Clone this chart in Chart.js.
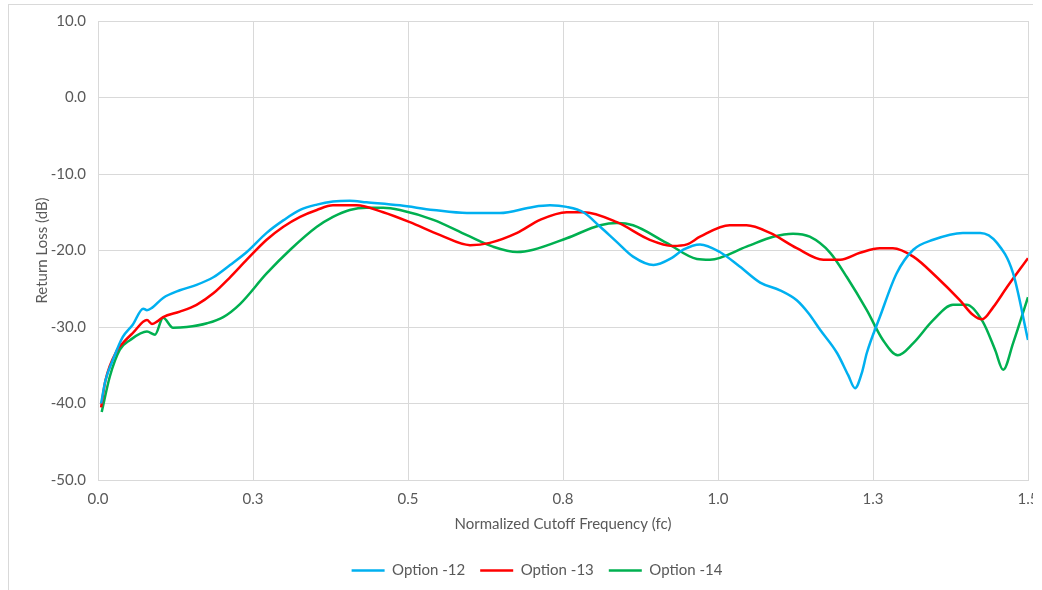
<!DOCTYPE html>
<html>
<head>
<meta charset="utf-8">
<script src="https://cdn.jsdelivr.net/npm/chart.js@4.4.1/dist/chart.umd.min.js"></script>
<style>
  html, body { margin: 0; padding: 0; background: #fff; overflow: hidden; width: 1042px; height: 590px; }
  #frame { position: absolute; left: 8px; top: 4px; width: 1024px; height: 600px;
           border-left: 1px solid #d9d9d9; border-top: 1px solid #d9d9d9; overflow: hidden; }
  #box { position: absolute; left: 0; top: 0; width: 1052px; height: 600px; }
</style>
</head>
<body>
<div id="frame"><div id="box"><canvas id="c"></canvas></div></div>
<script>
// ---- data ----
const seriesNames = ['Option -12', 'Option -13', 'Option -14'];
const seriesColors = ['#00B0F0', '#FF0000', '#00B050'];

const opt12X = [0.005, 0.012, 0.024, 0.040, 0.056, 0.073, 0.079, 0.087, 0.105, 0.132, 0.159, 0.186, 0.213, 0.240, 0.272, 0.300, 0.326, 0.353, 0.379, 0.406, 0.433, 0.487, 0.541, 0.595, 0.648, 0.702, 0.729, 0.756, 0.783, 0.810, 0.837, 0.863, 0.896, 0.925, 0.944, 0.971, 1.003, 1.035, 1.068, 1.100, 1.127, 1.146, 1.165, 1.192, 1.210, 1.221, 1.232, 1.240, 1.261, 1.288, 1.315, 1.347, 1.395, 1.423, 1.450, 1.476, 1.500];
const opt12Y = [-40.0, -37.0, -34.3, -31.3, -29.7, -27.6, -27.8, -27.5, -26.2, -25.2, -24.5, -23.5, -21.9, -20.2, -17.7, -16.0, -14.7, -14.0, -13.6, -13.5, -13.7, -14.1, -14.7, -15.1, -15.1, -14.3, -14.1, -14.3, -15.0, -16.9, -18.9, -20.8, -21.9, -21.0, -19.9, -19.2, -20.2, -22.1, -24.2, -25.2, -26.5, -28.2, -30.4, -33.4, -36.3, -38.0, -36.0, -33.4, -28.7, -23.0, -19.9, -18.6, -17.7, -17.7, -19.0, -23.0, -31.7];

const opt13X = [0.005, 0.012, 0.031, 0.040, 0.056, 0.079, 0.087, 0.095, 0.105, 0.132, 0.159, 0.186, 0.213, 0.240, 0.272, 0.299, 0.326, 0.353, 0.379, 0.417, 0.460, 0.503, 0.552, 0.600, 0.632, 0.676, 0.713, 0.756, 0.783, 0.837, 0.890, 0.927, 0.950, 0.971, 1.019, 1.046, 1.084, 1.127, 1.170, 1.197, 1.229, 1.261, 1.282, 1.315, 1.353, 1.390, 1.411, 1.426, 1.444, 1.466, 1.500];
const opt13Y = [-40.5, -37.0, -33.0, -32.1, -30.8, -29.1, -29.6, -29.3, -28.7, -28.0, -27.1, -25.6, -23.5, -21.2, -18.6, -16.9, -15.6, -14.7, -14.1, -14.1, -15.0, -16.3, -18.0, -19.3, -19.0, -17.7, -16.0, -15.0, -15.0, -16.3, -18.6, -19.4, -19.2, -18.2, -16.7, -16.7, -17.7, -19.7, -21.2, -21.2, -20.3, -19.7, -19.7, -20.8, -23.5, -26.5, -28.4, -29.0, -27.4, -24.8, -21.0];

const opt14X = [0.006, 0.019, 0.035, 0.052, 0.079, 0.092, 0.105, 0.121, 0.143, 0.176, 0.202, 0.229, 0.272, 0.310, 0.353, 0.379, 0.406, 0.433, 0.460, 0.487, 0.541, 0.595, 0.637, 0.676, 0.702, 0.756, 0.810, 0.837, 0.863, 0.917, 0.966, 0.987, 1.046, 1.089, 1.121, 1.148, 1.181, 1.208, 1.240, 1.266, 1.290, 1.315, 1.347, 1.379, 1.401, 1.427, 1.447, 1.460, 1.476, 1.500];
const opt14Y = [-41.1, -36.5, -33.0, -31.7, -30.6, -31.0, -28.8, -30.1, -30.0, -29.5, -28.7, -27.0, -23.0, -19.9, -16.9, -15.6, -14.7, -14.4, -14.4, -14.7, -16.0, -18.0, -19.5, -20.2, -19.9, -18.4, -16.7, -16.4, -16.7, -19.0, -21.1, -21.2, -19.5, -18.2, -17.8, -18.2, -20.3, -23.5, -27.8, -31.7, -33.7, -32.1, -29.1, -27.1, -27.1, -29.3, -33.0, -35.6, -32.1, -26.1];

const xTickValues = [0, 0.25, 0.5, 0.75, 1.0, 1.25, 1.5];
const xTickLabels = ['0.0', '0.3', '0.5', '0.8', '1.0', '1.3', '1.5'];
const yTickLabels = ['-50.0', '-40.0', '-30.0', '-20.0', '-10.0', '0.0', '10.0'];

const xTitle = 'Normalized Cutoff Frequency (fc)';
const yTitle = 'Return Loss (dB)';

// ---- build chart ----
const toPts = (xs, ys) => xs.map((x, i) => ({ x: x, y: ys[i] }));
const allX = [opt12X, opt13X, opt14X];
const allY = [opt12Y, opt13Y, opt14Y];

const datasets = seriesNames.map((name, i) => ({
  label: name,
  data: toPts(allX[i], allY[i]),
  borderColor: seriesColors[i],
  backgroundColor: seriesColors[i],
  borderWidth: 2.5,
  pointRadius: 0,
  pointStyle: 'line',
  fill: false,
  cubicInterpolationMode: 'monotone'
}));

const FONT = 'Lato, "Open Sans", sans-serif';
const GRID = '#d9d9d9';
const TXT = '#595959';

new Chart(document.getElementById('c'), {
  type: 'line',
  data: { datasets },
  options: {
    responsive: true,
    maintainAspectRatio: false,
    animation: false,
    events: [],
    layout: { padding: { left: 37, right: 33, top: 16, bottom: 17 } },
    plugins: {
      tooltip: { enabled: false },
      legend: {
        position: 'bottom',
        labels: {
          usePointStyle: true,
          pointStyleWidth: 33,
          padding: 15,
          color: TXT,
          font: { family: FONT, size: 15 }
        }
      }
    },
    scales: {
      x: {
        type: 'linear',
        min: 0, max: 1.5,
        afterBuildTicks: (s) => { s.ticks = xTickValues.map(v => ({ value: v })); },
        afterFit: (s) => { s.height = 68; },
        ticks: {
          padding: 10,
          color: TXT,
          font: { family: FONT, size: 15 },
          maxRotation: 0,
          callback: (v) => { const k = xTickValues.indexOf(v); return k >= 0 ? xTickLabels[k] : ''; }
        },
        grid: { color: GRID, lineWidth: 1, drawTicks: false },
        border: { color: GRID },
        title: { display: true, text: xTitle, color: TXT, font: { family: FONT, size: 15 }, padding: { top: 4, bottom: 15 } }
      },
      y: {
        min: -50, max: 10,
        ticks: {
          stepSize: 10,
          padding: 12,
          color: TXT,
          font: { family: FONT, size: 15 },
          callback: (v) => yTickLabels[Math.round((v + 50) / 10)]
        },
        afterFit: (s) => { s.width = 52; s.paddingTop = 0; },
        grid: { color: GRID, lineWidth: 1, drawTicks: false },
        border: { color: GRID },
        title: { display: true, text: yTitle, color: TXT, font: { family: FONT, size: 15 }, padding: { top: -13, bottom: 0 } }
      }
    }
  }
});
</script>
</body>
</html>
